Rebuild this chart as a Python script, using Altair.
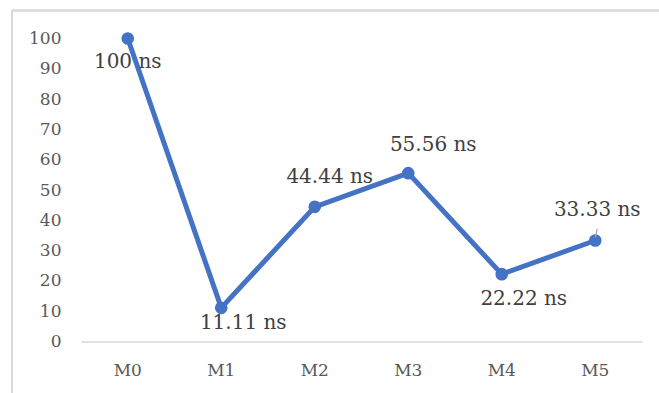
import altair as alt
import pandas as pd

categories = ["M0", "M1", "M2", "M3", "M4", "M5"]
values = [100, 11.11, 44.44, 55.56, 22.22, 33.33]

df = pd.DataFrame({"cat": categories, "value": values})

FONT = "DejaVu Serif"
BLUE = "#4472C4"
W, H = 561, 303
PAD_L, PAD_T = 81, 38.5

# label offsets (pixels) per category, styling only
label_offsets = {
    "M0": (0, 23),
    "M1": (22, 15),
    "M2": (15, -30),
    "M3": (25, -28),
    "M4": (22, 25),
    "M5": (2, -31),
}

x = alt.X("cat:N", sort=categories, title=None,
          scale=alt.Scale(paddingInner=0, paddingOuter=0),
          axis=alt.Axis(labelAngle=0, ticks=False, domainColor="#D9D9D9",
                        domainWidth=1.5, labelFont=FONT, labelFontSize=17,
                        labelColor="#595959", labelPadding=21, grid=False))
y = alt.Y("value:Q", title=None,
          scale=alt.Scale(domain=[0, 100], nice=False),
          axis=alt.Axis(values=list(range(0, 101, 10)), ticks=False, domain=False,
                        grid=False, labelFont=FONT, labelFontSize=17,
                        labelColor="#595959", labelPadding=20))

base = alt.Chart(df)

line = base.mark_line(color=BLUE, strokeWidth=5).encode(x=x, y=y)
points = base.mark_point(filled=True, opacity=1, color=BLUE, size=160).encode(x=x, y=y)

label_layers = []
for c, (dx, dy) in label_offsets.items():
    label_layers.append(
        base.transform_filter(alt.datum.cat == c)
        .transform_calculate(label="datum.value + ' ns'")
        .mark_text(font=FONT, fontSize=20, color="#404040", align="center",
                   baseline="middle", dx=dx, dy=dy)
        .encode(x=x, y=y, text="label:N")
    )

leader = base.transform_filter(alt.datum.cat == "M5").mark_rule(
    color="#A6A6A6", strokeWidth=1.2, xOffset=0, x2Offset=2, yOffset=-3, y2Offset=-12
).encode(x=x, x2=alt.X2("cat:N"), y=y, y2=alt.Y2("value:Q"))

frame_left = alt.Chart(df).mark_rule(color="#D9D9D9", strokeWidth=1.5).encode(
    x=alt.value(12 - PAD_L), y=alt.value(10.5 - PAD_T), y2=alt.value(400))
frame_top = alt.Chart(df).mark_rule(color="#D9D9D9", strokeWidth=1.5).encode(
    x=alt.value(12 - PAD_L), x2=alt.value(660 - PAD_L), y=alt.value(10.5 - PAD_T))

chart = alt.layer(frame_left, frame_top, line, points, leader, *label_layers).properties(
    width=W, height=H,
    autosize=alt.AutoSizeParams(type="none"),
    padding={"left": PAD_L, "top": PAD_T, "right": 659 - PAD_L - W, "bottom": 393 - PAD_T - H},
    background="white",
).configure_view(stroke=None)

chart.save("out.html", embed_options={"renderer": "svg", "actions": False})
